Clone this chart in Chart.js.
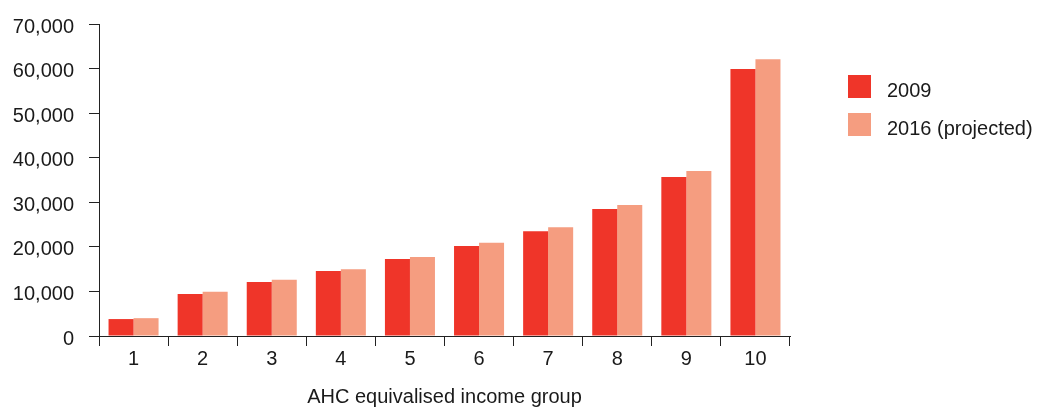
<!DOCTYPE html>
<html>
<head>
<meta charset="utf-8">
<title>AHC equivalised income group</title>
<script src="https://cdn.jsdelivr.net/npm/chart.js@4/dist/chart.umd.min.js"></script>
<style>
  html, body { margin: 0; padding: 0; background: #fff; }
  #wrap { width: 1039px; height: 408px; }
</style>
</head>
<body>
<div id="wrap"><canvas id="incomeChart" width="1039" height="408"></canvas></div>
<script>
// income groups and values per year
const groups = ["1", "2", "3", "4", "5", "6", "7", "8", "9", "10"];
const values2009 = [3800, 9400, 12100, 14600, 17300, 20200, 23500, 28500, 35700, 59900];
const values2016 = [4000, 9900, 12600, 15000, 17700, 20900, 24400, 29400, 37000, 62100];
const seriesNames = ["2009", "2016 (projected)"];

const red = "#ef3529";
const salmon = "#f59d80";
const ink = "#1a1a1a";
const fontFamily = "'Liberation Sans', Arial, sans-serif";

// simple legend drawn to the right of the plot
const sideLegend = {
  id: "sideLegend",
  afterDraw(chart) {
    const ctx = chart.ctx;
    ctx.save();
    ctx.font = "20px " + fontFamily;
    ctx.textBaseline = "alphabetic";
    ctx.textAlign = "left";
    chart.data.datasets.forEach(function (ds, i) {
      const top = 75 + i * 38;
      ctx.fillStyle = ds.backgroundColor;
      ctx.fillRect(848, top, 23, 23);
      ctx.fillStyle = ink;
      ctx.fillText(ds.label, 887, top + 22);
    });
    ctx.restore();
  }
};

var ctx = document.getElementById("incomeChart");

var incomeChart = new Chart(ctx, {
  type: "bar",
  data: {
    labels: groups,
    datasets: [
      { label: seriesNames[0], data: values2009, backgroundColor: red },
      { label: seriesNames[1], data: values2016, backgroundColor: salmon }
    ]
  },
  options: {
    responsive: false,
    animation: false,
    datasets: {
      bar: { categoryPercentage: 0.724, barPercentage: 1.0, borderWidth: 0 }
    },
    layout: {
      padding: { left: 0, right: 249, top: 24, bottom: 0 }
    },
    plugins: {
      legend: { display: false },
      tooltip: { enabled: false }
    },
    scales: {
      x: {
        grid: {
          offset: true,
          drawOnChartArea: false,
          drawTicks: true,
          tickLength: 10,
          color: "#222"
        },
        border: { display: true, color: "#222", width: 1 },
        ticks: {
          color: ink,
          padding: 1,
          font: { family: fontFamily, size: 20 }
        },
        title: {
          display: true,
          text: "AHC equivalised income group",
          color: ink,
          font: { family: fontFamily, size: 20, lineHeight: 1 },
          padding: { top: 0, bottom: 1 }
        },
        afterFit: function (scale) {
          scale.height = 72;
          scale.paddingLeft = 0;
          scale.paddingRight = 0;
        }
      },
      y: {
        min: 0,
        max: 70000,
        grid: {
          drawOnChartArea: false,
          drawTicks: true,
          tickLength: 10,
          color: "#222"
        },
        border: { display: true, color: "#222", width: 1 },
        ticks: {
          stepSize: 10000,
          color: ink,
          padding: 15,
          labelOffset: 3,
          font: { family: fontFamily, size: 20 },
          callback: function (v) { return v.toLocaleString("en-GB"); }
        },
        afterFit: function (scale) {
          scale.width = 99;
          scale.paddingTop = 0;
          scale.paddingBottom = 0;
        }
      }
    }
  },
  plugins: [sideLegend]
});
</script>
</body>
</html>
